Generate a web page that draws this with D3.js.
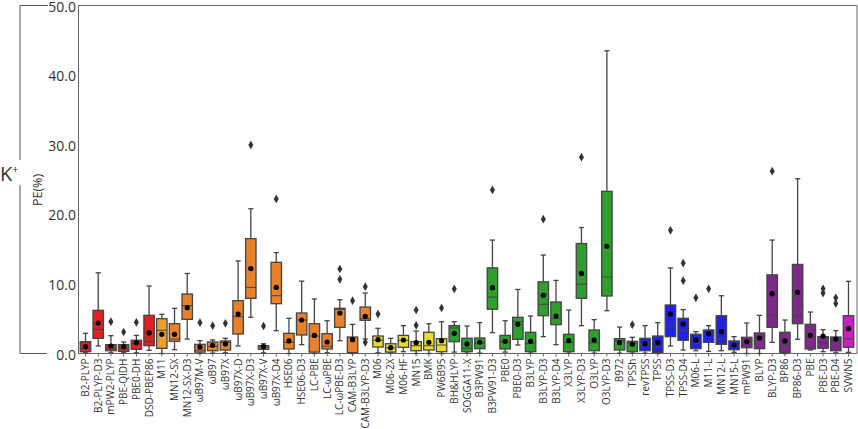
<!DOCTYPE html>
<html>
<head>
<meta charset="utf-8">
<script src="https://cdn.jsdelivr.net/npm/d3@7"></script>
<style>
  body { margin: 0; background: #fff; }
  text { font-family: "Open Sans", "DejaVu Sans", sans-serif; fill: #333; }
</style>
</head>
<body>
<svg id="chart" width="858" height="429"></svg>
<script>
// functional names along the x axis
var categories = ["B2-PLYP","B2-PLYP-D3","mPW2-PLYP","PBE-QIDH","PBE0-DH","DSD-PBEP86","M11","MN12-SX","MN12-SX-D3",
  "ωB97M-V","ωB97","ωB97X","ωB97X-D","ωB97X-D3","ωB97X-V","ωB97X-D4","HSE06","HSE06-D3","LC-PBE","LC-ωPBE",
  "LC-ωPBE-D3","CAM-B3LYP","CAM-B3LYP-D3","M06","M06-2X","M06-HF","MN15","BMK","PW6B95","BH&HLYP","SOGGA11-X",
  "B3PW91","B3PW91-D3","PBE0","PBE0-D3","B3LYP","B3LYP-D3","B3LYP-D4","X3LYP","X3LYP-D3","O3LYP","O3LYP-D3",
  "B972","TPSSh","revTPSS","TPSS","TPSS-D3","TPSS-D4","M06-L","M11-L","MN12-L","MN15-L","mPW91","BLYP","BLYP-D3",
  "BP86","BP86-D3","PBE","PBE-D3","PBE-D4","SVWN5"];

// family of each functional (sets the box colour)
var groups = ["dh","dh","dh","dh","dh","dh","m11",
  "rsh","rsh","rsh","rsh","rsh","rsh","rsh","rsh","rsh","rsh","rsh","rsh","rsh","rsh","rsh","rsh",
  "mh","mh","mh","mh","mh","mh",
  "gh","gh","gh","gh","gh","gh","gh","gh","gh","gh","gh","gh","gh","gh","gh",
  "mgga","mgga","mgga","mgga","mgga","mgga","mgga","mgga",
  "gga","gga","gga","gga","gga","gga","gga","gga",
  "lda"];

var whiskerLow = [0.1,1.08,0.1,0.1,0.1,0.46,0,0.55,2.08,0,0.05,0.1,1.08,5.2,0.1,3.28,0,1.27,0,0.1,
  1.84,0,2.08,0.1,0.05,0.26,0,0,0,0.2,0.05,0.05,3.0,0.2,1.22,0.05,2.42,1.27,0.05,4.0,0.05,6.15,
  0.05,0.05,0.05,0,1.08,0.5,0.4,0.3,0.4,0.17,0,0,1.6,0,2.04,0.5,0.26,0.1,0.17];
var q1 = [0.26,2.18,0.4,0.3,0.6,1.12,0.74,1.75,4.91,0.2,0.4,0.5,2.8,7.93,0.6,7.16,0.65,2.66,0.2,0.65,
  3.76,0.1,4.77,0.93,0.2,0.89,0.4,0.5,0.26,1.7,0.26,0.7,6.35,0.65,2.04,0.26,5.43,4.14,0.26,7.93,0.4,8.26,
  0.5,0.26,0.4,0.12,2.42,1.9,0.7,1.6,1.32,0.55,0.83,0.7,3.76,0.17,4.28,0.65,0.75,0.4,0.89];
var median = [0.7,3.47,0.7,0.75,1.4,1.75,3.33,2.08,6.87,0.5,1.0,1.6,5.29,9.5,0.9,8.3,1.61,4.81,2.51,1.03,
  6.35,0.15,5.0,1.9,0.8,1.9,1.12,1.12,1.22,3.66,0.75,1.5,8.12,1.6,4.6,1.46,7.07,5.0,1.6,9.94,1.55,11.0,
  1.84,1.5,1.3,0.89,3.95,3.28,1.46,2.85,2.04,1.2,1.7,2.37,5.53,1.22,5.39,2.42,1.51,1.8,2.08];
var q3 = [1.7,6.2,1.27,1.27,1.9,5.49,5.0,4.28,8.55,1.32,1.65,1.8,7.59,16.5,1.12,13.1,2.9,5.82,4.28,2.85,
  6.49,2.37,6.68,2.51,1.4,2.6,1.7,3.05,2.13,4.0,2.18,2.23,12.3,2.6,5.2,3.05,10.3,7.4,2.76,15.8,3.38,23.3,
  2.13,1.75,2.18,2.51,6.97,5.06,2.76,3.38,5.43,1.8,2.33,2.95,11.3,3.05,12.8,4.19,2.42,2.37,5.43];
var whiskerHigh = [2.9,11.6,2.56,1.65,2.6,9.7,5.63,6.49,11.5,1.84,1.94,2.18,13.3,20.8,1.4,14.5,5.06,10.4,7.83,4.71,
  7.73,4.19,8.69,3.62,2.18,4.0,3.23,4.28,4.57,4.57,3.95,4.43,16.3,4.71,9.2,5.39,14.15,10.5,6.25,18.1,4.86,43.5,
  3.8,2.33,4.0,4.43,12.3,6.3,3.13,4.0,8.3,2.42,4.38,5.49,16.3,4.81,25.1,5.96,3.42,3.28,10.37];
var means = [1.0,4.38,1.08,0.98,1.55,2.95,2.76,2.76,6.58,0.93,1.18,1.37,5.67,12.2,0.98,9.5,1.8,4.81,2.6,1.65,
  5.82,1.98,5.34,1.98,0.83,1.94,1.55,1.6,1.84,2.9,1.37,1.6,9.46,1.75,4.19,1.75,8.36,5.39,1.84,11.5,1.94,15.4,
  1.55,1.32,1.41,1.55,5.67,4.24,1.94,2.85,3.13,1.22,1.7,2.23,8.6,1.8,8.79,2.61,2.51,2.08,3.56];
var outliers = [[],[],[4.57],[3.09],[4.48],[],[],[],[],[4.43],[4.0],[4.34],[],[29.96],[3.95],[22.2],[],[],[],[],
  [10.66,12.14],[7.59],[1.6,9.6],[5.67],[],[],[4.05,6.25],[],[6.54],[9.27],[],[],[23.5],[],[],[],[19.3],[],[],[28.2],[],[],
  [],[4.14],[],[],[17.7],[10.46,13.0],[8.0],[9.3],[],[],[],[],[26.2],[],[],[],[8.69,9.3],[7.2,8.0],[]];

var yTicks = [0, 10, 20, 30, 40, 50];

var groupColor = {
  dh: "#e3201f", m11: "#e9a227", rsh: "#e8822a", mh: "#e6dc2a",
  gh: "#2e9e2e", mgga: "#2222e6", gga: "#7b2a88", lda: "#c81fc0"
};

var svg = d3.select("#chart");
var plotLeft = 78, plotRight = 857, plotTop = 5.5, plotBottom = 353.5;

var x = d3.scaleBand().domain(categories).range([plotLeft, 856]).padding(0.18);
var y = d3.scaleLinear().domain([0, 50]).range([plotBottom, plotTop]);

// frame
svg.append("path")
  .attr("d", "M" + plotLeft + "," + plotTop + "H" + plotRight + "V" + plotBottom)
  .attr("fill", "none").attr("stroke", "#666").attr("stroke-width", 1);

// x axis
var xAxis = svg.append("g")
  .attr("transform", "translate(0," + plotBottom + ")")
  .call(d3.axisBottom(x).tickSize(3).tickSizeOuter(0));
xAxis.select(".domain").attr("stroke", "#666").attr("d", "M" + plotLeft + ",0H" + plotRight);
xAxis.selectAll(".tick line").attr("stroke", "#666");
xAxis.selectAll(".tick text")
  .attr("transform", "rotate(-90)")
  .attr("text-anchor", "end")
  .attr("x", -5).attr("y", 0).attr("dy", "0.35em")
  .style("font-size", "10px").style("font-family", "'Open Sans', sans-serif").attr("fill", "#2a2a2a");

// y axis
var yAxis = svg.append("g")
  .attr("transform", "translate(" + plotLeft + ",0)")
  .call(d3.axisLeft(y).tickValues(yTicks).tickFormat(d3.format(".1f")).tickSize(0).tickPadding(2));
yAxis.select(".domain").attr("stroke", "#666");
yAxis.selectAll(".tick text")
  .attr("dy", "0.4em")
  .style("font-size", "14px").style("font-family", "'Open Sans', sans-serif").attr("fill", "#222");

// bracket and K+ label on the far left
svg.append("path")
  .attr("d", "M48," + plotTop + "H20V160M20,185V" + plotBottom + "H47")
  .attr("fill", "none").attr("stroke", "#555").attr("stroke-width", 1);
svg.append("text").attr("x", 0).attr("y", 181)
  .style("font-size", "20px").attr("fill", "#111").text("K")
  .append("tspan").attr("dy", -8).style("font-size", "11px").text("+");

svg.append("text")
  .attr("transform", "translate(42,190) rotate(-90)")
  .attr("text-anchor", "middle")
  .style("font-size", "12.5px").attr("fill", "#222")
  .text("PE(%)");

// boxes
var bw = x.bandwidth();
var box = svg.append("g").selectAll("g")
  .data(categories)
  .join("g")
  .attr("transform", function(d) { return "translate(" + x(d) + ",0)"; });

box.append("line")
  .attr("x1", bw / 2).attr("x2", bw / 2)
  .attr("y1", function(d, i) { return y(whiskerHigh[i]); })
  .attr("y2", function(d, i) { return y(q3[i]); })
  .attr("stroke", "#444").attr("stroke-width", 1.3);
box.append("line")
  .attr("x1", bw / 2).attr("x2", bw / 2)
  .attr("y1", function(d, i) { return y(q1[i]); })
  .attr("y2", function(d, i) { return y(whiskerLow[i]); })
  .attr("stroke", "#444").attr("stroke-width", 1.3);
box.append("line")
  .attr("x1", bw * 0.25).attr("x2", bw * 0.75)
  .attr("y1", function(d, i) { return y(whiskerHigh[i]); })
  .attr("y2", function(d, i) { return y(whiskerHigh[i]); })
  .attr("stroke", "#444").attr("stroke-width", 1.3);
box.append("line")
  .attr("x1", bw * 0.25).attr("x2", bw * 0.75)
  .attr("y1", function(d, i) { return y(whiskerLow[i]); })
  .attr("y2", function(d, i) { return y(whiskerLow[i]); })
  .attr("stroke", "#444").attr("stroke-width", 1.3);

box.append("rect")
  .attr("x", 0).attr("width", bw)
  .attr("y", function(d, i) { return y(q3[i]); })
  .attr("height", function(d, i) { return Math.max(1, y(q1[i]) - y(q3[i])); })
  .attr("fill", function(d, i) { return groupColor[groups[i]]; })
  .attr("stroke", "#444").attr("stroke-width", 1.3);

box.append("line")
  .attr("x1", 0).attr("x2", bw)
  .attr("y1", function(d, i) { return y(median[i]); })
  .attr("y2", function(d, i) { return y(median[i]); })
  .attr("stroke", "#444").attr("stroke-width", 1);

box.append("circle")
  .attr("cx", bw / 2)
  .attr("cy", function(d, i) { return y(means[i]); })
  .attr("r", 2.6)
  .attr("fill", "#000");

var diamond = d3.symbol().type(d3.symbolDiamond).size(22);
box.selectAll("path.out")
  .data(function(d, i) { return outliers[i]; })
  .join("path")
  .attr("class", "out")
  .attr("d", diamond)
  .attr("transform", function(v) { return "translate(" + bw / 2 + "," + y(v) + ")"; })
  .attr("fill", "#333");
</script>
</body>
</html>
